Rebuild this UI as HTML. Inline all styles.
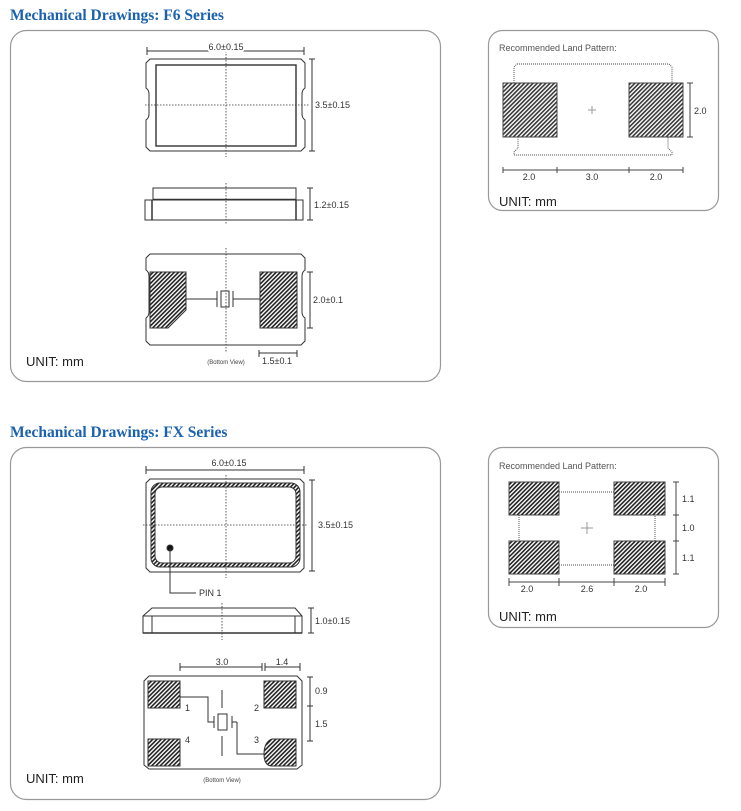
<!DOCTYPE html>
<html><head><meta charset="utf-8"><style>
html,body{margin:0;padding:0;background:#fff;}
svg{display:block;}
text{font-family:"Liberation Sans",sans-serif;fill:#333;}
.t{font-family:"Liberation Serif",serif;font-weight:bold;font-size:15.5px;fill:#1a62ad;}
.u{font-size:13px;fill:#222;}
.d{font-size:9px;}
.rl{font-size:9px;fill:#555;}
</style></head><body>
<svg width="741" height="811" viewBox="0 0 741 811" xmlns="http://www.w3.org/2000/svg">
<defs>
<pattern id="h" patternUnits="userSpaceOnUse" width="3" height="3" patternTransform="rotate(45)">
<rect width="3" height="3" fill="#fff"/><line x1="0.8" y1="0" x2="0.8" y2="3" stroke="#222" stroke-width="1.6"/>
</pattern>
</defs>
<g fill="none" stroke="#999" stroke-width="1.2">
<rect x="10.5" y="30.5" width="430" height="351" rx="16"/>
<rect x="488.5" y="30.5" width="230" height="180" rx="14"/>
<rect x="10.5" y="447.5" width="430" height="352" rx="16"/>
<rect x="488.5" y="447.5" width="230" height="180" rx="14"/>
</g>
<text class="t" x="10" y="20">Mechanical Drawings: F6 Series</text>
<text class="t" x="10" y="437">Mechanical Drawings: FX Series</text>
<text class="u" x="26" y="366">UNIT: mm</text>
<text class="u" x="26" y="783">UNIT: mm</text>
<text class="u" x="499" y="206">UNIT: mm</text>
<text class="u" x="499" y="621">UNIT: mm</text>

<g stroke="#333" stroke-width="1" fill="none">
<!-- F6 top -->
<path d="M150,59 H301 L305,63 V88 Q302,90 302,94 V114 Q302,118 305,120 V147 L301,151 H150 L146,147 V120 Q149,118 149,114 V94 Q149,90 146,88 V63 Z"/>
<rect x="156" y="65" width="140" height="81" stroke-width="1.4"/>
<line x1="147" y1="51" x2="304" y2="51"/><line x1="147" y1="47" x2="147" y2="55"/><line x1="304" y1="47" x2="304" y2="55"/>
<line x1="312" y1="59" x2="312" y2="151"/><line x1="309" y1="59" x2="315" y2="59"/><line x1="309" y1="151" x2="315" y2="151"/>
<g stroke-dasharray="1.5,1.5" stroke-width="0.8"><line x1="226" y1="45" x2="226" y2="157"/><line x1="145" y1="105" x2="310" y2="105"/></g>
<!-- F6 side -->
<rect x="153" y="188" width="143" height="12"/>
<rect x="145" y="200" width="158" height="20"/>
<line x1="152" y1="200" x2="152" y2="220" stroke-width="1.5"/><line x1="296" y1="200" x2="296" y2="220" stroke-width="1.5"/>
<line x1="153" y1="199.5" x2="296" y2="199.5" stroke-width="1.6"/>
<line x1="310" y1="188" x2="310" y2="220"/><line x1="307" y1="188" x2="313" y2="188"/><line x1="307" y1="220" x2="313" y2="220"/>
<line x1="226" y1="183" x2="226" y2="225" stroke-dasharray="1.5,1.5" stroke-width="0.8"/>
<!-- F6 bottom -->
<path d="M150,254 H301 L305,258 V270 Q302,272 302,276 V312 Q302,316 305,318 V341 L301,345 H150 L146,341 V318 Q149,316 149,312 V276 Q149,272 146,270 V258 Z"/>
<path d="M150,272 H186 V310 L168,328 H150 Z" fill="url(#h)"/>
<rect x="260" y="272" width="37" height="56" fill="url(#h)"/>
<line x1="186" y1="299" x2="217" y2="299"/><line x1="233" y1="299" x2="260" y2="299"/>
<line x1="217" y1="291" x2="217" y2="307"/><line x1="233" y1="291" x2="233" y2="307"/>
<rect x="221" y="291" width="8" height="16" fill="#fff"/>
<line x1="226" y1="248" x2="226" y2="353" stroke-dasharray="1.5,1.5" stroke-width="0.8"/>
<line x1="310" y1="272" x2="310" y2="328"/><line x1="307" y1="272" x2="313" y2="272"/><line x1="307" y1="328" x2="313" y2="328"/>
<line x1="259" y1="353" x2="297" y2="353"/><line x1="259" y1="350" x2="259" y2="357"/><line x1="297" y1="350" x2="297" y2="357"/>
</g>
<text class="d" x="226" y="50" text-anchor="middle" style="paint-order:stroke" stroke="#fff" stroke-width="4">6.0±0.15</text>
<text class="d" x="315" y="108">3.5±0.15</text>
<text class="d" x="314" y="208">1.2±0.15</text>
<text class="d" x="313" y="303">2.0±0.1</text>
<text class="d" x="262" y="364">1.5±0.1</text>
<text x="226" y="364" text-anchor="middle" style="font-size:6px;fill:#444">(Bottom View)</text>

<!-- F6 land -->
<text class="rl" x="499" y="51">Recommended Land Pattern:</text>
<g stroke="#444" fill="none">
<path d="M517,64 H669 L672,67 V92 L668,98 V148 L672,152 V155 H514 V152 L518,148 V98 L514,92 V67 Z" stroke-dasharray="1,1" stroke-width="0.9"/>
<rect x="503" y="83" width="54" height="54" fill="url(#h)" fill-opacity="0.9"/>
<rect x="629" y="83" width="54" height="54" fill="url(#h)" fill-opacity="0.9"/>
<line x1="588" y1="110" x2="596" y2="110" stroke="#999"/><line x1="592" y1="106" x2="592" y2="114" stroke="#999"/>
<line x1="690" y1="83" x2="690" y2="137"/><line x1="687" y1="83" x2="693" y2="83"/><line x1="687" y1="137" x2="693" y2="137"/>
<line x1="503" y1="170" x2="683" y2="170"/>
<line x1="503" y1="167" x2="503" y2="173"/><line x1="557" y1="167" x2="557" y2="173"/><line x1="629" y1="167" x2="629" y2="173"/><line x1="683" y1="167" x2="683" y2="173"/>
</g>
<text class="d" x="694" y="114">2.0</text>
<text class="d" x="529" y="180" text-anchor="middle">2.0</text>
<text class="d" x="592" y="180" text-anchor="middle">3.0</text>
<text class="d" x="656" y="180" text-anchor="middle">2.0</text>

<!-- FX top -->
<g stroke="#333" stroke-width="1" fill="none">
<path d="M150,479 H300 L304,483 V568 L300,572 H150 L146,568 V483 Z"/>
<rect x="151" y="483" width="149" height="84" rx="9" fill="url(#h)"/>
<rect x="155" y="487" width="141" height="76" rx="7" fill="#fff"/>
<line x1="146" y1="470" x2="304" y2="470"/><line x1="146" y1="466" x2="146" y2="474"/><line x1="304" y1="466" x2="304" y2="474"/>
<line x1="312" y1="480" x2="312" y2="571"/><line x1="309" y1="480" x2="315" y2="480"/><line x1="309" y1="571" x2="315" y2="571"/>
<g stroke-dasharray="1.5,1.5" stroke-width="0.8"><line x1="226" y1="475" x2="226" y2="578"/><line x1="143" y1="525" x2="308" y2="525"/></g>
<circle cx="170" cy="548" r="3" fill="#111"/>
<path d="M170,548 V593 H196"/>
<!-- FX side -->
<path d="M143,616 L152,608 H295 L302,616 V633 H143 Z"/>
<line x1="143" y1="616" x2="302" y2="616"/>
<line x1="152" y1="616" x2="152" y2="633"/><line x1="295" y1="616" x2="295" y2="633"/>
<line x1="143" y1="633" x2="302" y2="633" stroke-width="1.6"/>
<line x1="311" y1="608" x2="311" y2="633"/><line x1="308" y1="608" x2="314" y2="608"/><line x1="308" y1="633" x2="314" y2="633"/>
<line x1="222" y1="603" x2="222" y2="640" stroke-dasharray="1.5,1.5" stroke-width="0.8"/>
<!-- FX bottom -->
<line x1="180" y1="667" x2="262" y2="667"/><line x1="180" y1="663" x2="180" y2="671"/><line x1="262" y1="663" x2="262" y2="671"/>
<line x1="265" y1="667" x2="300" y2="667"/><line x1="265" y1="663" x2="265" y2="671"/><line x1="300" y1="663" x2="300" y2="671"/>
<path d="M149,676 H297 L302,681 V765 L297,769 H149 L144,765 V681 Z"/>
<rect x="148" y="681" width="32" height="27" fill="url(#h)"/>
<rect x="264" y="681" width="32" height="27" fill="url(#h)"/>
<rect x="148" y="739" width="32" height="27" fill="url(#h)"/>
<path d="M272,739 H296 V766 H272 Q264,766 264,754 Q264,742 272,739 Z" fill="url(#h)"/>
<path d="M180,697 H208 V722 H214"/><line x1="214" y1="716" x2="214" y2="728"/>
<path d="M237,722 V754 H264"/><line x1="232" y1="716" x2="232" y2="728"/><line x1="232" y1="722" x2="237" y2="722"/>
<rect x="218" y="714" width="9" height="16" fill="#fff"/>
<line x1="222" y1="690" x2="222" y2="708"/><line x1="222" y1="736" x2="222" y2="756"/>
<line x1="310" y1="677" x2="310" y2="741"/><line x1="307" y1="677" x2="313" y2="677"/><line x1="307" y1="706" x2="313" y2="706"/><line x1="307" y1="741" x2="313" y2="741"/>
</g>
<text class="d" x="229" y="466" text-anchor="middle">6.0±0.15</text>
<text class="d" x="318" y="528">3.5±0.15</text>
<text class="d" x="199" y="596">PIN 1</text>
<text class="d" x="315" y="624">1.0±0.15</text>
<text class="d" x="222" y="665" text-anchor="middle">3.0</text>
<text class="d" x="282" y="665" text-anchor="middle">1.4</text>
<text class="d" x="315" y="694">0.9</text>
<text class="d" x="315" y="727">1.5</text>
<text class="d" x="185" y="711">1</text>
<text class="d" x="254" y="711">2</text>
<text class="d" x="185" y="743">4</text>
<text class="d" x="254" y="743">3</text>
<text x="222" y="782" text-anchor="middle" style="font-size:6px;fill:#444">(Bottom View)</text>

<!-- FX land -->
<text class="rl" x="499" y="469">Recommended Land Pattern:</text>
<g stroke="#444" fill="none">
<rect x="519" y="492" width="136" height="73" stroke-dasharray="1,1" stroke-width="0.9"/>
<rect x="509" y="482" width="50" height="33" fill="url(#h)"/>
<rect x="614" y="482" width="51" height="33" fill="url(#h)"/>
<rect x="509" y="541" width="50" height="33" fill="url(#h)"/>
<rect x="614" y="541" width="51" height="33" fill="url(#h)"/>
<line x1="581" y1="528" x2="593" y2="528" stroke="#999"/><line x1="587" y1="522" x2="587" y2="534" stroke="#999"/>
<line x1="676" y1="482" x2="676" y2="574"/><line x1="673" y1="482" x2="679" y2="482"/><line x1="673" y1="515" x2="679" y2="515"/><line x1="673" y1="541" x2="679" y2="541"/><line x1="673" y1="574" x2="679" y2="574"/>
<line x1="509" y1="582" x2="665" y2="582"/>
<line x1="509" y1="578" x2="509" y2="586"/><line x1="559" y1="578" x2="559" y2="586"/><line x1="614" y1="578" x2="614" y2="586"/><line x1="665" y1="578" x2="665" y2="586"/>
</g>
<text class="d" x="682" y="502">1.1</text>
<text class="d" x="682" y="531">1.0</text>
<text class="d" x="682" y="561">1.1</text>
<text class="d" x="527" y="592" text-anchor="middle">2.0</text>
<text class="d" x="587" y="592" text-anchor="middle">2.6</text>
<text class="d" x="641" y="592" text-anchor="middle">2.0</text>
</svg>
</body></html>
